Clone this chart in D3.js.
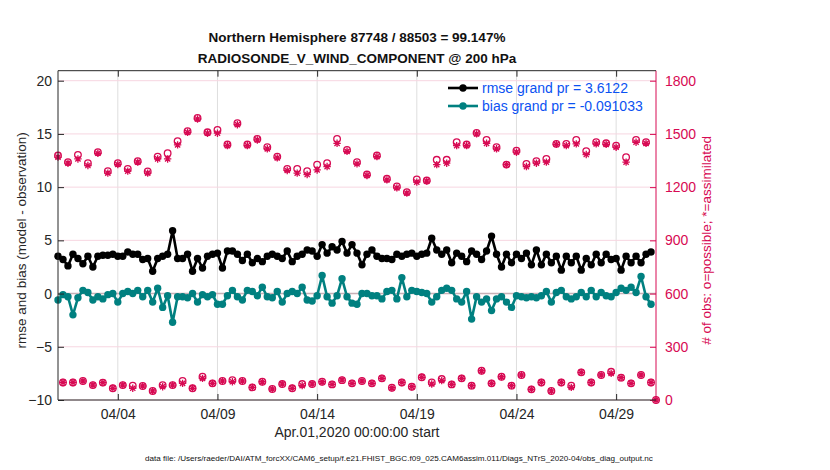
<!DOCTYPE html>
<meta charset="utf-8">

<head>
    <title>obs_diag RADIOSONDE_V_WIND_COMPONENT</title>
    <script type="text/javascript" src="https://d3js.org/d3.v7.min.js"></script>
    <style>
        body { margin: 0; background: #fff; }
        text { font-family: "Liberation Sans", Arial, Helvetica, sans-serif; }
    </style>
</head>

<body>
    <svg id="chart"></svg>

    <script>

        // ---- data ----
        // rmse and bias, one value per 6 h bin, starting Apr.01 00Z
        var rmse = [3.5, 3.2, 2.6, 3.7, 3.3, 2.8, 3.5, 2.5, 3.5, 3.6, 3.6, 3.7, 3.5, 3.5, 3.9, 3.7, 3.7, 3.2, 3.3, 2.1,
            3.3, 3.5, 3.7, 5.9, 3.3, 3.3, 3.7, 2.1, 3.3, 2.4, 3.5,
            3.7, 3.8, 2.4, 4.0, 4.0, 3.7, 3.1, 3.7, 2.9, 3.3, 3.0, 3.5, 3.7, 3.5, 3.3, 4.0, 3.0, 3.5, 3.7, 4.1,
            4.0, 3.5, 4.6, 3.8, 4.4, 4.1, 4.9, 3.8, 4.6,
            3.8, 2.7, 3.7, 4.1, 3.5, 3.3, 3.3, 3.2, 3.7, 3.5, 3.7, 3.8, 3.5, 3.7, 3.8, 5.2, 4.1, 3.7, 4.1, 2.9,
            3.8, 3.5, 3.0, 4.0, 3.7, 3.2, 4.0, 5.4, 3.7, 2.5, 3.7,
            2.9, 3.7, 3.3, 3.8, 2.7, 4.1, 2.7, 3.7, 2.9, 3.5, 2.2, 3.5, 2.9, 3.5, 2.2, 3.3, 2.7, 3.7, 2.9, 3.7,
            3.2, 3.3, 2.2, 3.5, 2.9, 3.5, 2.9, 3.7, 3.9];

        var bias = [-0.6, -0.1, -0.3, -2.0, -0.4, 0.3, 0.1, -0.6, -0.3, -0.5, -0.1, 0.0, -0.8, 0.0, 0.2, 0.0, 0.3, -0.3, 0.3, -0.8,
            0.5, -1.3, -0.2, -2.7, -0.3, -0.3, -0.4, 0.0, -0.8, -0.1, -0.3,
            -0.1, -1.0, -1.0, -0.2, 0.3, -0.3, -0.6, 0.3, 0.2, -0.2, 0.6, -0.3, -0.4, 0.2, -0.8, 0.0, 0.2, 0.0, 0.6,
            -0.6, -0.7, -0.2, 1.7, -0.3, -0.9, -0.2, 1.4, -0.3, -0.9,
            -1.0, 0.0, 0.0, -0.2, -0.2, -0.5, 0.2, 0.3, -0.5, 1.5, -0.3, 0.3, 0.2, 0.1, 0.0, -0.8, -0.3, 0.3, 0.5, 0.3,
            -0.5, -0.8, 0.2, -2.4, -0.3, -0.8, -0.5, -1.6, -0.5, -0.3, -0.8,
            -1.3, -0.2, -0.3, -0.4, -0.3, -0.4, -0.2, 0.2, -0.8, 0.1, 0.3, -0.3, -0.5, -0.3, 0.1, -0.3, 0.3, -0.3, 0.1,
            -0.2, -0.3, 0.1, 0.5, 0.3, 0.6, 0.1, 1.6, -0.3, -1.0];

        // obs counts at 00Z / 12Z (last one is May.01 00Z)
        var possible00 = [1378, 1341, 1382, 1335, 1397, 1290, 1335, 1303, 1346, 1288, 1372, 1391, 1459, 1515, 1590, 1509, 1522, 1440, 1560, 1440,
            1472, 1425, 1372, 1303, 1303, 1290, 1327, 1335, 1472, 1410, 1341, 1271, 1378, 1247, 1204, 1172, 1243, 1237, 1354, 1354,
            1453, 1440, 1506, 1466, 1425, 1327, 1405, 1331, 1346, 1359, 1444, 1444, 1466, 1403, 1453, 1447, 1434, 1369, 1466, 1453, 0];
        var assim00 = [1369, 1335, 1359, 1322, 1391, 1279, 1328, 1290, 1341, 1279, 1359, 1359, 1438, 1509, 1584, 1504, 1504, 1434, 1552, 1434,
            1466, 1416, 1365, 1294, 1279, 1271, 1297, 1316, 1447, 1402, 1331, 1266, 1372, 1241, 1196, 1166, 1228, 1234, 1327, 1335,
            1434, 1434, 1500, 1447, 1416, 1327, 1397, 1316, 1335, 1341, 1441, 1434, 1444, 1384, 1444, 1441, 1425, 1341, 1453, 1447, 0];

        // obs counts at 06Z / 18Z
        var possible06 = [99, 99, 107, 84, 98, 66, 84, 81, 79, 51, 84, 84, 107, 66, 131, 94, 107, 112, 107, 71,
            103, 62, 90, 66, 90, 90, 103, 88, 112, 94, 107, 94, 122, 69, 99, 75, 128, 99, 118, 88,
            122, 81, 165, 94, 131, 81, 141, 60, 99, 51, 99, 81, 156, 99, 141, 159, 126, 94, 141, 99];
        var assim06 = [99, 99, 107, 84, 98, 66, 84, 66, 79, 51, 75, 84, 94, 66, 122, 94, 107, 103, 107, 71,
            103, 62, 90, 66, 81, 90, 103, 88, 112, 94, 107, 94, 122, 69, 99, 75, 128, 90, 109, 88,
            122, 81, 165, 94, 131, 81, 141, 60, 99, 51, 99, 71, 156, 99, 141, 150, 126, 94, 141, 99];

        var xTickLabels = ["04/04", "04/09", "04/14", "04/19", "04/24", "04/29"];
        var yLeftTicks = [-10, -5, 0, 5, 10, 15, 20];
        var yRightTicks = [0, 300, 600, 900, 1200, 1500, 1800];

        var titleLines = ["Northern Hemisphere 87748 / 88503 = 99.147%", "RADIOSONDE_V_WIND_COMPONENT @ 200 hPa"];
        var legendLabels = ["rmse grand pr = 3.6122", "bias grand pr = -0.091033"];

        // ---- layout ----
        var w = 830, h = 470;
        var pl = 58, pr = 656, pt = 70.7, pb = 400;
        var dark = "#262626", crimson = "#d70a53", teal = "#008080", legendBlue = "#0b52f2";

        var svg = d3.select("#chart").attr("width", w).attr("height", h);

        var t0 = Date.UTC(2020, 3, 1), hour = 3600 * 1000;
        var x = d3.scaleUtc()
            .domain([new Date(t0), new Date(Date.UTC(2020, 4, 1))])
            .range([pl, pr]);
        var yL = d3.scaleLinear().domain([-10, 20]).range([pb, 80.7]);
        var yR = d3.scaleLinear().domain([0, 1800]).range([pb, 80.7]);

        var tickDates = xTickLabels.map(function (s) {
            return new Date(Date.UTC(2020, +s.slice(0, 2) - 1, +s.slice(3)));
        });

        // grid
        svg.append("g").selectAll("line")
            .data(tickDates).enter().append("line")
            .attr("x1", function (d) { return x(d); }).attr("x2", function (d) { return x(d); })
            .attr("y1", pt).attr("y2", pb)
            .style("stroke", "#dedede").style("stroke-width", 1);

        svg.append("g").selectAll("line")
            .data(yLeftTicks).enter().append("line")
            .attr("x1", pl).attr("x2", pr)
            .attr("y1", function (d) { return yL(d); }).attr("y2", function (d) { return yL(d); })
            .style("stroke", "#f7d6e1").style("stroke-width", 1);

        // zero line
        svg.append("line")
            .attr("x1", pl).attr("x2", pr).attr("y1", yL(0)).attr("y2", yL(0))
            .style("stroke", "#c7b0b6").style("stroke-width", 1.6);

        // obs counts (o = possible, * = assimilated)
        var star = function (r) {
            var a = r * 0.707;
            return "M" + (-r) + ",0H" + r + "M0," + (-r) + "V" + r +
                "M" + (-a) + "," + (-a) + "L" + a + "," + a + "M" + (-a) + "," + a + "L" + a + "," + (-a);
        };

        function drawCounts(possible, assim, offsetH) {
            var g = svg.append("g");
            g.selectAll("circle").data(possible).enter().append("circle")
                .attr("cx", function (d, i) { return x(new Date(t0 + (offsetH + 12 * i) * hour)); })
                .attr("cy", function (d) { return yR(d); })
                .attr("r", 3.3)
                .style("fill", "none").style("stroke", crimson).style("stroke-width", 1.3);
            g.selectAll("path").data(assim).enter().append("path")
                .attr("transform", function (d, i) {
                    return "translate(" + x(new Date(t0 + (offsetH + 12 * i) * hour)) + "," + yR(d) + ")";
                })
                .attr("d", star(3.7))
                .style("fill", "none").style("stroke", crimson).style("stroke-width", 1.3);
        }
        drawCounts(possible00, assim00, 0);
        drawCounts(possible06, assim06, 6);

        // rmse and bias lines
        function drawSeries(vals, color) {
            var line = d3.line()
                .x(function (d, i) { return x(new Date(t0 + 6 * i * hour)); })
                .y(function (d) { return yL(d); });
            var g = svg.append("g");
            g.append("path").datum(vals)
                .attr("d", line)
                .style("fill", "none").style("stroke", color).style("stroke-width", 2.6)
                .style("stroke-linejoin", "round");
            g.selectAll("circle").data(vals).enter().append("circle")
                .attr("cx", function (d, i) { return x(new Date(t0 + 6 * i * hour)); })
                .attr("cy", function (d) { return yL(d); })
                .attr("r", 3.7)
                .style("fill", color);
        }
        drawSeries(bias, teal);
        drawSeries(rmse, "black");

        // axes (ticks point inward)
        var axL = svg.append("g").attr("transform", "translate(" + pl + ",0)")
            .call(d3.axisLeft(yL).tickValues(yLeftTicks).tickSizeInner(-6).tickSizeOuter(0).tickPadding(6));
        axL.select(".domain").attr("d", "M0," + pt + "V" + pb);

        var axR = svg.append("g").attr("transform", "translate(" + pr + ",0)")
            .call(d3.axisRight(yR).tickValues(yRightTicks).tickFormat(d3.format("d"))
                .tickSizeInner(-6).tickSizeOuter(0).tickPadding(9));
        axR.select(".domain").attr("d", "M0," + pt + "V" + pb);

        var axB = svg.append("g").attr("transform", "translate(0," + pb + ")")
            .call(d3.axisBottom(x).tickValues(tickDates).tickFormat(function (d, i) { return xTickLabels[i]; })
                .tickSizeInner(-6).tickSizeOuter(0).tickPadding(9));
        axB.select(".domain").attr("d", "M" + pl + ",0H" + pr);

        var axT = svg.append("g").attr("transform", "translate(0," + pt + ")")
            .call(d3.axisTop(x).tickValues(tickDates).tickFormat("").tickSizeInner(-6).tickSizeOuter(0));
        axT.select(".domain").attr("d", "M" + pl + ",0H" + pr);

        [axL, axB, axT].forEach(function (a) {
            a.selectAll("path, line").style("stroke", dark);
            a.selectAll("text").style("fill", dark).style("font-size", "14px")
                .style("font-family", '"Liberation Sans", Arial, sans-serif');
        });
        axR.selectAll("path, line").style("stroke", crimson);
        axR.selectAll("text").style("fill", crimson).style("font-size", "14px")
            .style("font-family", '"Liberation Sans", Arial, sans-serif');

        // titles and labels
        svg.selectAll(".title").data(titleLines).enter().append("text")
            .attr("class", "title")
            .attr("x", (pl + pr) / 2).attr("y", function (d, i) { return 42 + i * 21; })
            .attr("text-anchor", "middle")
            .style("font-weight", "bold").style("font-size", "13.5px").style("fill", "#111")
            .text(function (d) { return d; });

        svg.append("text")
            .attr("transform", "translate(26," + ((pt + pb) / 2 + 5) + ") rotate(-90)")
            .attr("text-anchor", "middle")
            .style("font-size", "13.5px").style("fill", dark)
            .text("rmse and bias (model - observation)");

        svg.append("text")
            .attr("transform", "translate(711," + ((pt + pb) / 2 + 5) + ") rotate(-90)")
            .attr("text-anchor", "middle")
            .style("font-size", "13.5px").style("fill", crimson)
            .text("# of obs: o=possible; *=assimilated");

        svg.append("text")
            .attr("x", (pl + pr) / 2).attr("y", 437)
            .attr("text-anchor", "middle")
            .style("font-size", "14px").style("fill", dark)
            .text("Apr.01,2020 00:00:00 start");

        svg.append("text")
            .attr("x", 399).attr("y", 461)
            .attr("text-anchor", "middle")
            .style("font-size", "8.1px").style("fill", "#111")
            .text("data file: /Users/raeder/DAI/ATM_forcXX/CAM6_setup/f.e21.FHIST_BGC.f09_025.CAM6assim.011/Diags_NTrS_2020-04/obs_diag_output.nc");

        // legend
        var legendColors = ["black", teal];
        var lg = svg.append("g");
        legendColors.forEach(function (c, i) {
            var ly = 88 + i * 18;
            lg.append("line").attr("x1", 448).attr("x2", 478).attr("y1", ly).attr("y2", ly)
                .style("stroke", c).style("stroke-width", 2.6);
            lg.append("circle").attr("cx", 463).attr("cy", ly).attr("r", 3.7).style("fill", c);
            lg.append("text").attr("x", 482).attr("y", ly + 5)
                .style("font-size", "14px").style("fill", legendBlue)
                .text(legendLabels[i]);
        });

    </script>
</body>

</html>
